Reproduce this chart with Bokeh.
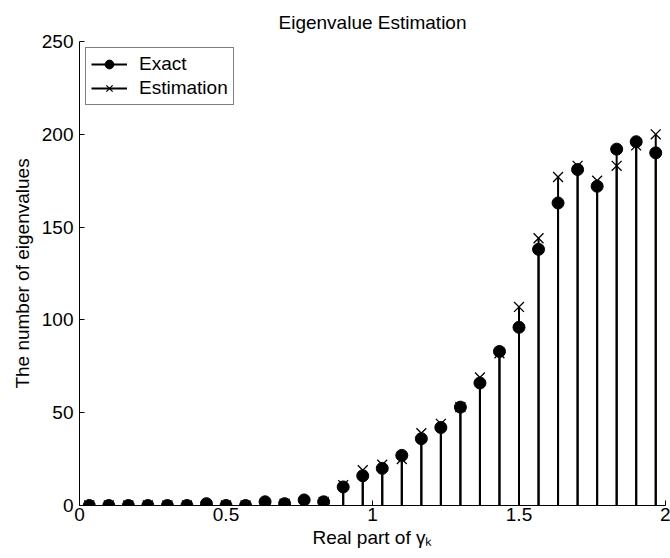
from bokeh.plotting import figure
from bokeh.models import (Range1d, FixedTicker, Legend, LegendItem,
                          ColumnDataSource)
from bokeh.embed import file_html
from bokeh.resources import INLINE

# Centres of the bins along the real axis
real_part = [0.0333, 0.1, 0.1667, 0.2333, 0.3, 0.3667, 0.4333, 0.5, 0.5667,
             0.6333, 0.7, 0.7667, 0.8333, 0.9, 0.9667, 1.0333, 1.1, 1.1667,
             1.2333, 1.3, 1.3667, 1.4333, 1.5, 1.5667, 1.6333, 1.7, 1.7667,
             1.8333, 1.9, 1.9667]

# Exact eigenvalue counts per bin
exact_counts = [0, 0, 0, 0, 0, 0, 1, 0, 0, 2, 1, 3, 2, 10, 16, 20, 27, 36,
                42, 53, 66, 83, 96, 138, 163, 181, 172, 192, 196, 190]

# Estimated eigenvalue counts per bin
estimated_counts = [0, 0, 0, 0, 0, 0, 0, 0, 0, 1, 1, 2, 2, 11, 19, 22, 25, 39,
                    44, 53, 69, 82, 107, 144, 177, 183, 175, 183, 194, 200]

x_ticks = [0, 0.5, 1, 1.5, 2]
y_ticks = [0, 50, 100, 150, 200, 250]

FONT = "Liberation Sans"
FS = "19px"

src = ColumnDataSource(data=dict(
    x=real_part,
    base=[0] * len(real_part),
    exact=exact_counts,
    est=estimated_counts,
))

p = figure(width=670, height=558, output_backend="svg", toolbar_location=None,
           x_range=Range1d(0, 2), y_range=Range1d(0, 250),
           min_border_left=79, min_border_right=5,
           min_border_top=41, min_border_bottom=53,
           title="Eigenvalue Estimation")

p.background_fill_color = "white"
p.border_fill_color = "white"
p.outline_line_color = None
p.grid.visible = False

p.title.align = "center"
p.title.text_font = FONT
p.title.text_font_size = FS
p.title.text_font_style = "normal"
p.title.text_color = "black"
p.title.standoff = 17

for ax in (p.xaxis[0], p.yaxis[0]):
    ax.major_tick_in = 5
    ax.major_tick_out = 0
    ax.minor_tick_line_color = None
    ax.axis_line_color = "black"
    ax.major_tick_line_color = "black"
    ax.major_label_text_font = FONT
    ax.major_label_text_font_size = FS
    ax.major_label_text_color = "black"
    ax.axis_label_text_font = FONT
    ax.axis_label_text_font_size = FS
    ax.axis_label_text_font_style = "normal"
    ax.axis_label_text_color = "black"

p.xaxis.ticker = FixedTicker(ticks=x_ticks)
p.yaxis.ticker = FixedTicker(ticks=y_ticks)
p.xaxis.major_label_overrides = {0: "0", 0.5: "0.5", 1: "1", 1.5: "1.5", 2: "2"}
p.xaxis.major_label_standoff = 2
p.xaxis.axis_label = "Real part of γₖ"
p.xaxis.axis_label_standoff = 3
p.yaxis.major_label_standoff = 6
p.yaxis.axis_label = "The number of eigenvalues"
p.yaxis.axis_label_standoff = 6

# Stems for both series
stem_exact = p.segment(x0="x", y0="base", x1="x", y1="exact", source=src,
                       line_color="black", line_width=2)
stem_est = p.segment(x0="x", y0="base", x1="x", y1="est", source=src,
                     line_color="black", line_width=2)

# Markers
dots = p.scatter(x="x", y="exact", source=src, marker="circle", size=12,
                 fill_color="black", line_color="black")
crosses = p.scatter(x="x", y="est", source=src, marker="x", size=14,
                    line_color="black", line_width=1.3)

legend = Legend(items=[
    LegendItem(label="Exact", renderers=[stem_exact, dots]),
    LegendItem(label="Estimation", renderers=[stem_est, crosses]),
], location="top_left")
legend.margin = 6
legend.padding = 5
legend.spacing = 2
legend.glyph_width = 36
legend.glyph_height = 22
legend.label_height = 22
legend.label_standoff = 12
legend.label_text_font = FONT
legend.label_text_font_size = FS
legend.label_text_color = "black"
legend.border_line_color = "black"
legend.border_line_width = 1
legend.background_fill_color = "white"
legend.background_fill_alpha = 1
p.add_layout(legend, "center")

open("out.html", "w").write(file_html(p, INLINE))
